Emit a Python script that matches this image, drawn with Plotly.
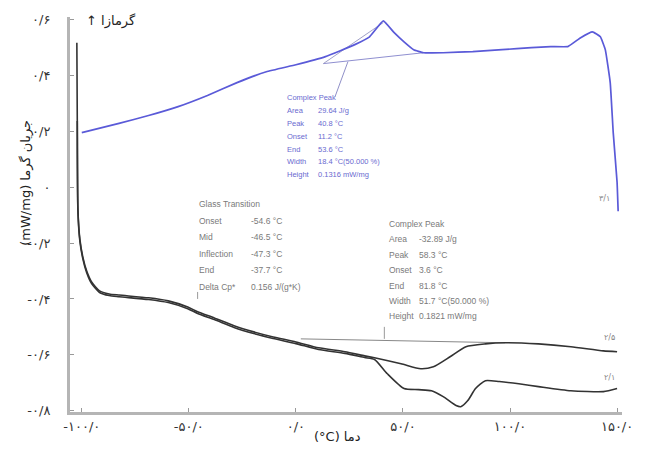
import plotly.graph_objects as go

# ---- DSC traces (temperature in °C, heat flow in mW/mg) ----
blue_t = [-100.0, -82.6, -68.8, -55.0, -41.3, -27.5, -13.8, 0.0, 13.8, 27.5, 34.4, 40.8,
          45.9, 50.5, 55.0, 59.6, 68.8, 82.6, 96.3, 110.0, 119.0, 127.0, 133.0, 138.5,
          142.2, 144.5, 146.8, 148.2, 150.0, 150.5]
blue_q = [0.196, 0.229, 0.257, 0.289, 0.329, 0.375, 0.414, 0.439, 0.468, 0.511, 0.539, 0.596,
          0.554, 0.521, 0.493, 0.482, 0.482, 0.486, 0.493, 0.500, 0.504, 0.504, 0.536, 0.557,
          0.539, 0.493, 0.375, 0.196, 0.018, -0.086]

# shared low-temperature part of both black traces
start_t = [-102.3, -102.1, -101.8, -100.9, -99.5, -97.7, -95.4, -91.7, -87.2, -82.6, -68.8,
           -59.6, -50.5, -45.9, -38.1, -28.9, -19.7, -10.6, 0.0, 10.6, 22.9, 32.1, 36.7]
start_q = [0.518, 0.243, -0.079, -0.186, -0.250, -0.300, -0.339, -0.371, -0.382, -0.386, -0.396,
           -0.407, -0.429, -0.446, -0.468, -0.496, -0.518, -0.536, -0.554, -0.575, -0.589, -0.604, -0.611]

upper_t = [49.1, 58.3, 64.2, 72.0, 79.4, 88.5, 97.7, 113.3, 128.4, 143.6, 150.0]
upper_q = [-0.632, -0.650, -0.643, -0.607, -0.571, -0.561, -0.557, -0.561, -0.571, -0.586, -0.589]

lower_t = [42.7, 50.5, 57.3, 63.3, 68.8, 74.8, 77.0, 80.3, 83.9, 88.5, 95.0, 104.1, 113.3,
           128.4, 143.6, 150.0]
lower_q = [-0.668, -0.721, -0.725, -0.729, -0.750, -0.782, -0.786, -0.764, -0.721, -0.693,
           -0.696, -0.704, -0.714, -0.729, -0.732, -0.721]

# integration baselines / helper lines from the evaluation
blue_base_t = [12.8, 59.6]
blue_base_q = [0.443, 0.482]
blue_tan_t = [12.8, 40.8]
blue_tan_q = [0.443, 0.590]
black_base_t = [2.3, 97.7]
black_base_q = [-0.543, -0.557]

# axis ticks
x_ticks = [-100, -50, 0, 50, 100, 150]
x_tick_text = ["-۱۰۰/۰", "-۵۰/۰", "۰/۰", "۵۰/۰", "۱۰۰/۰", "۱۵۰/۰"]
y_ticks = [0.6, 0.4, 0.2, 0.0, -0.2, -0.4, -0.6, -0.8]
y_tick_text = ["۰/۶", "۰/۴", "۰/۲", "۰", "-۰/۲", "-۰/۴", "-۰/۶", "-۰/۸"]

# evaluation tables
blue_rows = [("Complex Peak", ""), ("Area", "29.64 J/g"), ("Peak", "40.8 °C"),
             ("Onset", "11.2 °C"), ("End", "53.6 °C"), ("Width", "18.4 °C(50.000 %)"),
             ("Height", "0.1316 mW/mg")]
glass_rows = [("Glass Transition", ""), ("Onset", "-54.6 °C"), ("Mid", "-46.5 °C"),
              ("Inflection", "-47.3 °C"), ("End", "-37.7 °C"), ("Delta Cp*", "0.156 J/(g*K)")]
peak_rows = [("Complex Peak", ""), ("Area", "-32.89 J/g"), ("Peak", "58.3 °C"),
             ("Onset", "3.6 °C"), ("End", "81.8 °C"), ("Width", "51.7 °C(50.000 %)"),
             ("Height", "0.1821 mW/mg")]

BLUE = "#5a5ad8"
DARK = "#333333"

fig = go.Figure()

# helper lines
fig.add_trace(go.Scatter(x=blue_base_t, y=blue_base_q, mode="lines",
                         line=dict(color="#8f8fd0", width=1), hoverinfo="skip"))
fig.add_trace(go.Scatter(x=blue_tan_t, y=blue_tan_q, mode="lines",
                         line=dict(color="#a0a0c8", width=1), hoverinfo="skip"))
fig.add_trace(go.Scatter(x=black_base_t, y=black_base_q, mode="lines",
                         line=dict(color="#888888", width=1), hoverinfo="skip"))

# black traces
fig.add_trace(go.Scatter(x=start_t + upper_t, y=start_q + upper_q, mode="lines",
                         line=dict(color=DARK, width=1.6, shape="spline", smoothing=0.6)))
fig.add_trace(go.Scatter(x=start_t[1:] + lower_t,
                         y=[q - 0.006 for q in start_q[1:]] + lower_q, mode="lines",
                         line=dict(color=DARK, width=1.6, shape="spline", smoothing=0.6)))
# blue trace
fig.add_trace(go.Scatter(x=blue_t, y=blue_q, mode="lines",
                         line=dict(color=BLUE, width=1.7, shape="spline", smoothing=0.3)))

ann = []


def table(rows, x_lab, x_val, y0, dy, color, size):
    for i, (lab, val) in enumerate(rows):
        y = y0 - i * dy
        ann.append(dict(x=x_lab, y=y, xref="x", yref="y", text=lab, showarrow=False,
                        xanchor="left", yanchor="middle",
                        font=dict(family="Liberation Sans, Arial", size=size, color=color)))
        if val:
            ann.append(dict(x=x_val, y=y, xref="x", yref="y", text=val, showarrow=False,
                            xanchor="left", yanchor="middle",
                            font=dict(family="Liberation Sans, Arial", size=size, color=color)))


table(blue_rows, -5.0, 9.5, 0.321, 0.046, "#6a6ad0", 7.5)
table(glass_rows, -46.0, -22.0, -0.061, 0.059, "#7a7a7a", 8.5)
table(peak_rows, 42.5, 56.5, -0.132, 0.055, "#7a7a7a", 8.5)

# pointer ticks from tables to curves
fig.add_shape(type="line", x0=18.3, y0=0.325, x1=24.3, y1=0.45, xref="x", yref="y",
              line=dict(color="#9090c8", width=1))
fig.add_shape(type="line", x0=-45.9, y0=-0.375, x1=-45.9, y1=-0.40, xref="x", yref="y",
              line=dict(color="#999999", width=1))
fig.add_shape(type="line", x0=41.3, y0=-0.50, x1=41.3, y1=-0.543, xref="x", yref="y",
              line=dict(color="#999999", width=1))

# curve labels
for x, y, t in [(144.0, -0.04, "۳/۱"), (146.5, -0.538, "۲/۵"), (146.5, -0.68, "۲/۱")]:
    ann.append(dict(x=x, y=y, xref="x", yref="y", text=t, showarrow=False,
                    font=dict(family="DejaVu Sans", size=8, color="#888888")))

# exo direction + axis titles
ann.append(dict(x=-99, y=0.595, xref="x", yref="y", text="↑ گرمازا", showarrow=False,
                xanchor="left", yanchor="middle",
                font=dict(family="DejaVu Sans", size=13, color="#222222")))
ann.append(dict(x=-0.08, y=0.58, xref="paper", yref="paper", text="(mW/mg) جریان گرما",
                showarrow=False, textangle=-90, xanchor="center", yanchor="middle",
                font=dict(family="DejaVu Sans", size=13, color="#222222")))
ann.append(dict(x=0.485, y=-0.085, xref="paper", yref="paper", text="(°C) دما",
                showarrow=False,
                font=dict(family="DejaVu Sans", size=13, color="#222222")))

fig.update_layout(
    width=645, height=451,
    margin=dict(l=70, r=13, t=15, b=39),
    paper_bgcolor="white", plot_bgcolor="white",
    showlegend=False,
    annotations=ann,
    font=dict(family="DejaVu Sans", size=12, color="#222222"),
)
fig.update_xaxes(range=[-105.5, 152.3], tickvals=x_ticks, ticktext=x_tick_text,
                 showgrid=False, zeroline=False, showline=True, linecolor="#b5b5b5",
                 linewidth=3, ticks="inside", ticklen=4, tickcolor="#999999",
                 tickfont=dict(size=13, color="#333333"))
fig.update_yaxes(range=[-0.805, 0.61], tickvals=y_ticks, ticktext=y_tick_text,
                 showgrid=False, zeroline=False, showline=True, linecolor="#b5b5b5",
                 linewidth=3, ticks="inside", ticklen=4, tickcolor="#999999",
                 ticklabelstandoff=14, tickfont=dict(size=13, color="#333333"))

fig.write_html("out.html")
